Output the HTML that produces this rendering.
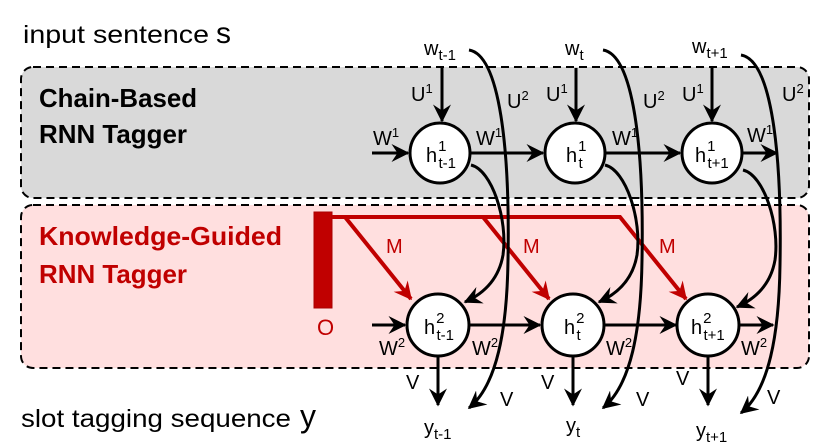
<!DOCTYPE html>
<html><head><meta charset="utf-8"><style>
html,body{margin:0;padding:0;background:#fff;}
svg{display:block;font-family:"Liberation Sans","DejaVu Sans",sans-serif;}
</style></head><body>
<svg width="831" height="448" viewBox="0 0 831 448" xmlns="http://www.w3.org/2000/svg">
<defs>
<marker id="a" viewBox="0 0 12 12" refX="11" refY="6" markerWidth="6" markerHeight="6" orient="auto" markerUnits="strokeWidth">
<path d="M0,0 L12,6 L0,12 L4,6 z" fill="#000"/></marker>
<marker id="r" viewBox="0 0 12 12" refX="11" refY="6" markerWidth="4.5" markerHeight="4.5" orient="auto" markerUnits="strokeWidth">
<path d="M0,0 L12,6 L0,12 L4,6 z" fill="#c00000"/></marker>
</defs>
<rect x="21" y="67" width="788" height="131" rx="12" fill="#d9d9d9" stroke="#000" stroke-width="2" stroke-dasharray="8,5"/>
<rect x="21" y="205" width="788" height="163" rx="12" fill="#ffdfdf" stroke="#000" stroke-width="2" stroke-dasharray="8,5"/>
<text x="23" y="43" font-size="25" textLength="186" lengthAdjust="spacingAndGlyphs">input sentence</text>
<text x="216" y="43" font-size="30">s</text>
<text x="39" y="107" font-size="26" font-weight="bold" textLength="158" lengthAdjust="spacingAndGlyphs">Chain-Based</text>
<text x="39" y="143" font-size="26" font-weight="bold" textLength="148" lengthAdjust="spacingAndGlyphs">RNN Tagger</text>
<text x="39" y="245" font-size="26" font-weight="bold" fill="#c00000" textLength="243" lengthAdjust="spacingAndGlyphs">Knowledge-Guided</text>
<text x="39" y="283" font-size="26" font-weight="bold" fill="#c00000" textLength="148" lengthAdjust="spacingAndGlyphs">RNN Tagger</text>
<text x="21" y="427" font-size="25" textLength="270" lengthAdjust="spacingAndGlyphs">slot tagging sequence</text>
<text x="300" y="427" font-size="32">y</text>

<!-- red -->
<rect x="314" y="212" width="18" height="96" fill="#c00000" stroke="#a00" stroke-width="1"/>
<text x="317" y="335" font-size="22" fill="#c00000">O</text>
<g stroke="#c00000" stroke-width="4" fill="none">
<path d="M332,217 L620,217 L686,299" marker-end="url(#r)"/>
<path d="M345,217 L411,299" marker-end="url(#r)"/>
<path d="M483,217 L549,299" marker-end="url(#r)"/>
</g>
<g fill="#c00000" font-size="20"><text x="386" y="253">M</text><text x="523" y="253">M</text><text x="659" y="253">M</text></g>

<g stroke="#000" stroke-width="3" fill="none">
<path d="M372,153 L408,153" marker-end="url(#a)"/>
<path d="M470,153 L543,153" marker-end="url(#a)"/>
<path d="M605,153 L680,153" marker-end="url(#a)"/>
<path d="M742,153 L777,153" marker-end="url(#a)"/>
<path d="M372,325 L405,325" marker-end="url(#a)"/>
<path d="M469,325 L540,325" marker-end="url(#a)"/>
<path d="M604,325 L676,325" marker-end="url(#a)"/>
<path d="M739,325 L773,325" marker-end="url(#a)"/>
<path d="M442,68 L442,121" marker-end="url(#a)"/>
<path d="M576,68 L576,121" marker-end="url(#a)"/>
<path d="M712,68 L712,121" marker-end="url(#a)"/>
<path d="M438,357 L438,405" marker-end="url(#a)"/>
<path d="M573,357 L573,405" marker-end="url(#a)"/>
<path d="M708,357 L708,405" marker-end="url(#a)"/>
<g id="c">
<path d="M469,50 C500,55 510,150 508,260 C507,330 497,385 469,408" marker-end="url(#a)"/>
<path d="M471,165 C492,170 508,220 503,255 C499,278 485,293 465,302" marker-end="url(#a)"/>
</g>
<use href="#c" transform="translate(134,0)"/>
<use href="#c" transform="translate(272,5)"/>
</g>
<g fill="#fff" stroke="#000" stroke-width="3">
<circle cx="440" cy="153" r="30"/><circle cx="575" cy="153" r="30"/><circle cx="712" cy="153" r="30"/>
<circle cx="438" cy="325" r="31"/><circle cx="573" cy="325" r="31"/><circle cx="708" cy="325" r="31"/>
</g>
<g font-size="20">
<text x="426" y="162">h<tspan font-size="15" dx="1" dy="-11">1</tspan><tspan font-size="15" dx="-8" dy="17">t-1</tspan></text>
<text x="566" y="162">h<tspan font-size="15" dx="1" dy="-11">1</tspan><tspan font-size="15" dx="-8" dy="17">t</tspan></text>
<text x="695" y="162">h<tspan font-size="15" dx="1" dy="-11">1</tspan><tspan font-size="15" dx="-8" dy="17">t+1</tspan></text>
<text x="424" y="334">h<tspan font-size="15" dx="1" dy="-11">2</tspan><tspan font-size="15" dx="-8" dy="17">t-1</tspan></text>
<text x="564" y="334">h<tspan font-size="15" dx="1" dy="-11">2</tspan><tspan font-size="15" dx="-8" dy="17">t</tspan></text>
<text x="691" y="334">h<tspan font-size="15" dx="1" dy="-11">2</tspan><tspan font-size="15" dx="-8" dy="17">t+1</tspan></text>
<text x="424" y="55">w<tspan font-size="15" dy="5">t-1</tspan></text>
<text x="565" y="55">w<tspan font-size="15" dy="5">t</tspan></text>
<text x="692" y="53">w<tspan font-size="15" dy="5">t+1</tspan></text>
<text x="424" y="434">y<tspan font-size="15" dy="5">t-1</tspan></text>
<text x="566" y="432">y<tspan font-size="15" dy="5">t</tspan></text>
<text x="696" y="437">y<tspan font-size="15" dy="5">t+1</tspan></text>
<text x="411" y="101">U<tspan font-size="13" dy="-8">1</tspan></text>
<text x="546" y="101">U<tspan font-size="13" dy="-8">1</tspan></text>
<text x="682" y="101">U<tspan font-size="13" dy="-8">1</tspan></text>
<text x="507" y="108">U<tspan font-size="13" dy="-8">2</tspan></text>
<text x="643" y="108">U<tspan font-size="13" dy="-8">2</tspan></text>
<text x="782" y="101">U<tspan font-size="13" dy="-8">2</tspan></text>
<text x="373" y="145">W<tspan font-size="13" dy="-8">1</tspan></text>
<text x="476" y="145">W<tspan font-size="13" dy="-8">1</tspan></text>
<text x="612" y="145">W<tspan font-size="13" dy="-8">1</tspan></text>
<text x="747" y="142">W<tspan font-size="13" dy="-8">1</tspan></text>
<text x="379" y="355">W<tspan font-size="13" dy="-8">2</tspan></text>
<text x="472" y="355">W<tspan font-size="13" dy="-8">2</tspan></text>
<text x="606" y="355">W<tspan font-size="13" dy="-8">2</tspan></text>
<text x="741" y="355">W<tspan font-size="13" dy="-8">2</tspan></text>
<text x="406" y="389">V</text><text x="541" y="389">V</text><text x="676" y="385">V</text>
<text x="500" y="406">V</text><text x="636" y="406">V</text><text x="767" y="404">V</text>
</g>
</svg>
</body></html>
